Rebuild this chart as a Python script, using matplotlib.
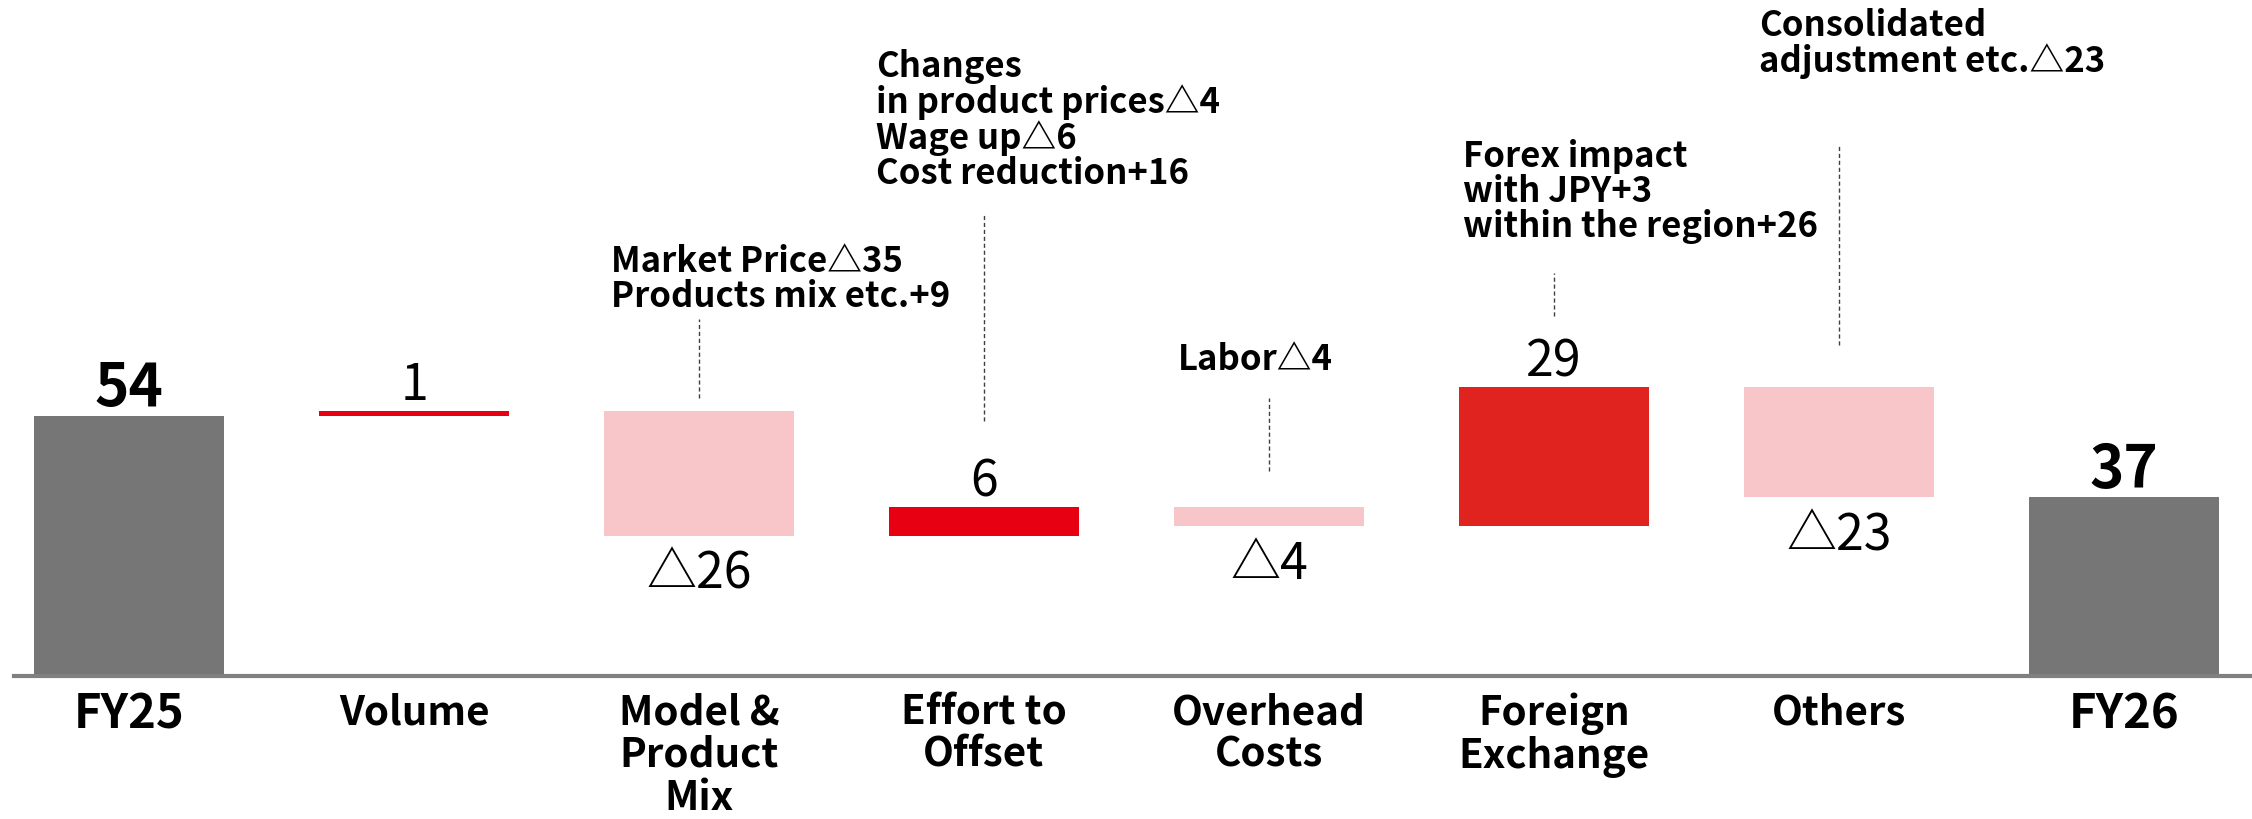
import matplotlib
matplotlib.use("Agg")
import matplotlib.pyplot as plt
import numpy as np

plt.rcParams['font.family'] = ['Noto Sans CJK JP', 'DejaVu Sans']

categories = ['FY25', 'Volume', 'Model &\nProduct\nMix', 'Effort to\nOffset',
              'Overhead\nCosts', 'Foreign\nExchange', 'Others', 'FY26']
values = [54, 1, -26, 6, -4, 29, -23, 37]
value_labels = ['54', '1', '△26', '6', '△4', '29', '△23', '37']
kinds = ['total', 'up', 'down', 'up', 'down', 'up', 'down', 'total']
colors = ['#767676', '#E60012', '#F8C6C8', '#E60012', '#F8C6C8', '#E1231F', '#F8C6C8', '#767676']

notes = {
    2: 'Market Price△35\nProducts mix etc.+9',
    3: 'Changes\nin product prices△4\nWage up△6\nCost reduction+16',
    4: 'Labor△4',
    5: 'Forex impact\nwith JPY+3\nwithin the region+26',
    6: 'Consolidated\nadjustment etc.△23',
}
# (text left x offset, text center y, dashed line y0, y1)
note_pos = {
    2: (-0.31, 82.4, 57.6, 74.0),
    3: (-0.38, 115.4, 52.8, 96.0),
    4: (-0.32, 65.7, 42.4, 57.6),
    5: (-0.32, 100.6, 74.6, 83.6),
    6: (-0.28, 131.3, 68.6, 110.4),
}

fig = plt.figure(figsize=(22.52, 8.19), dpi=100)
ax = fig.add_axes([0, 0, 1, 1])
ax.set_xlim(-0.453, 7.45)
ax.set_ylim(-29.8, 140.3)
ax.axis('off')

x = np.arange(len(categories))
bottoms, heights = [], []
running = 0
for v, k in zip(values, kinds):
    if k == 'total':
        bottoms.append(0); heights.append(v); running = v
    else:
        if v >= 0:
            bottoms.append(running); heights.append(v)
        else:
            bottoms.append(running + v); heights.append(-v)
        running += v

ax.bar(x, heights, bottom=bottoms, width=0.665, color=colors, zorder=2)
ax.axhline(0, xmin=0.006, xmax=1, color='#808080', lw=3, zorder=3)

for i in range(len(categories)):
    top = bottoms[i] + heights[i]
    if kinds[i] == 'total':
        ax.text(x[i], top + 1.9, value_labels[i], ha='center', va='baseline',
                fontsize=42, fontweight='bold')
        ax.text(x[i], -3.2, categories[i], ha='center', va='top', fontsize=34,
                fontweight='bold', linespacing=1.05)
    else:
        if values[i] >= 0:
            ax.text(x[i], top + 2.2, value_labels[i], ha='center', va='baseline',
                    fontsize=36)
        else:
            ax.text(x[i], bottoms[i] - 11.0, value_labels[i], ha='center',
                    va='baseline', fontsize=36)
        ax.text(x[i], -3.5, categories[i], ha='center', va='top', fontsize=29,
                fontweight='bold', linespacing=1.05)

for i, txt in notes.items():
    dx, yc, y0, y1 = note_pos[i]
    ax.text(x[i] + dx, yc, txt, ha='left', va='center', fontsize=25,
            fontweight='bold', linespacing=1.0)
    ax.plot([x[i], x[i]], [y0, y1], color='#404040', lw=1, ls=(0, (3, 2)))

fig.savefig('out.png', dpi=100)
